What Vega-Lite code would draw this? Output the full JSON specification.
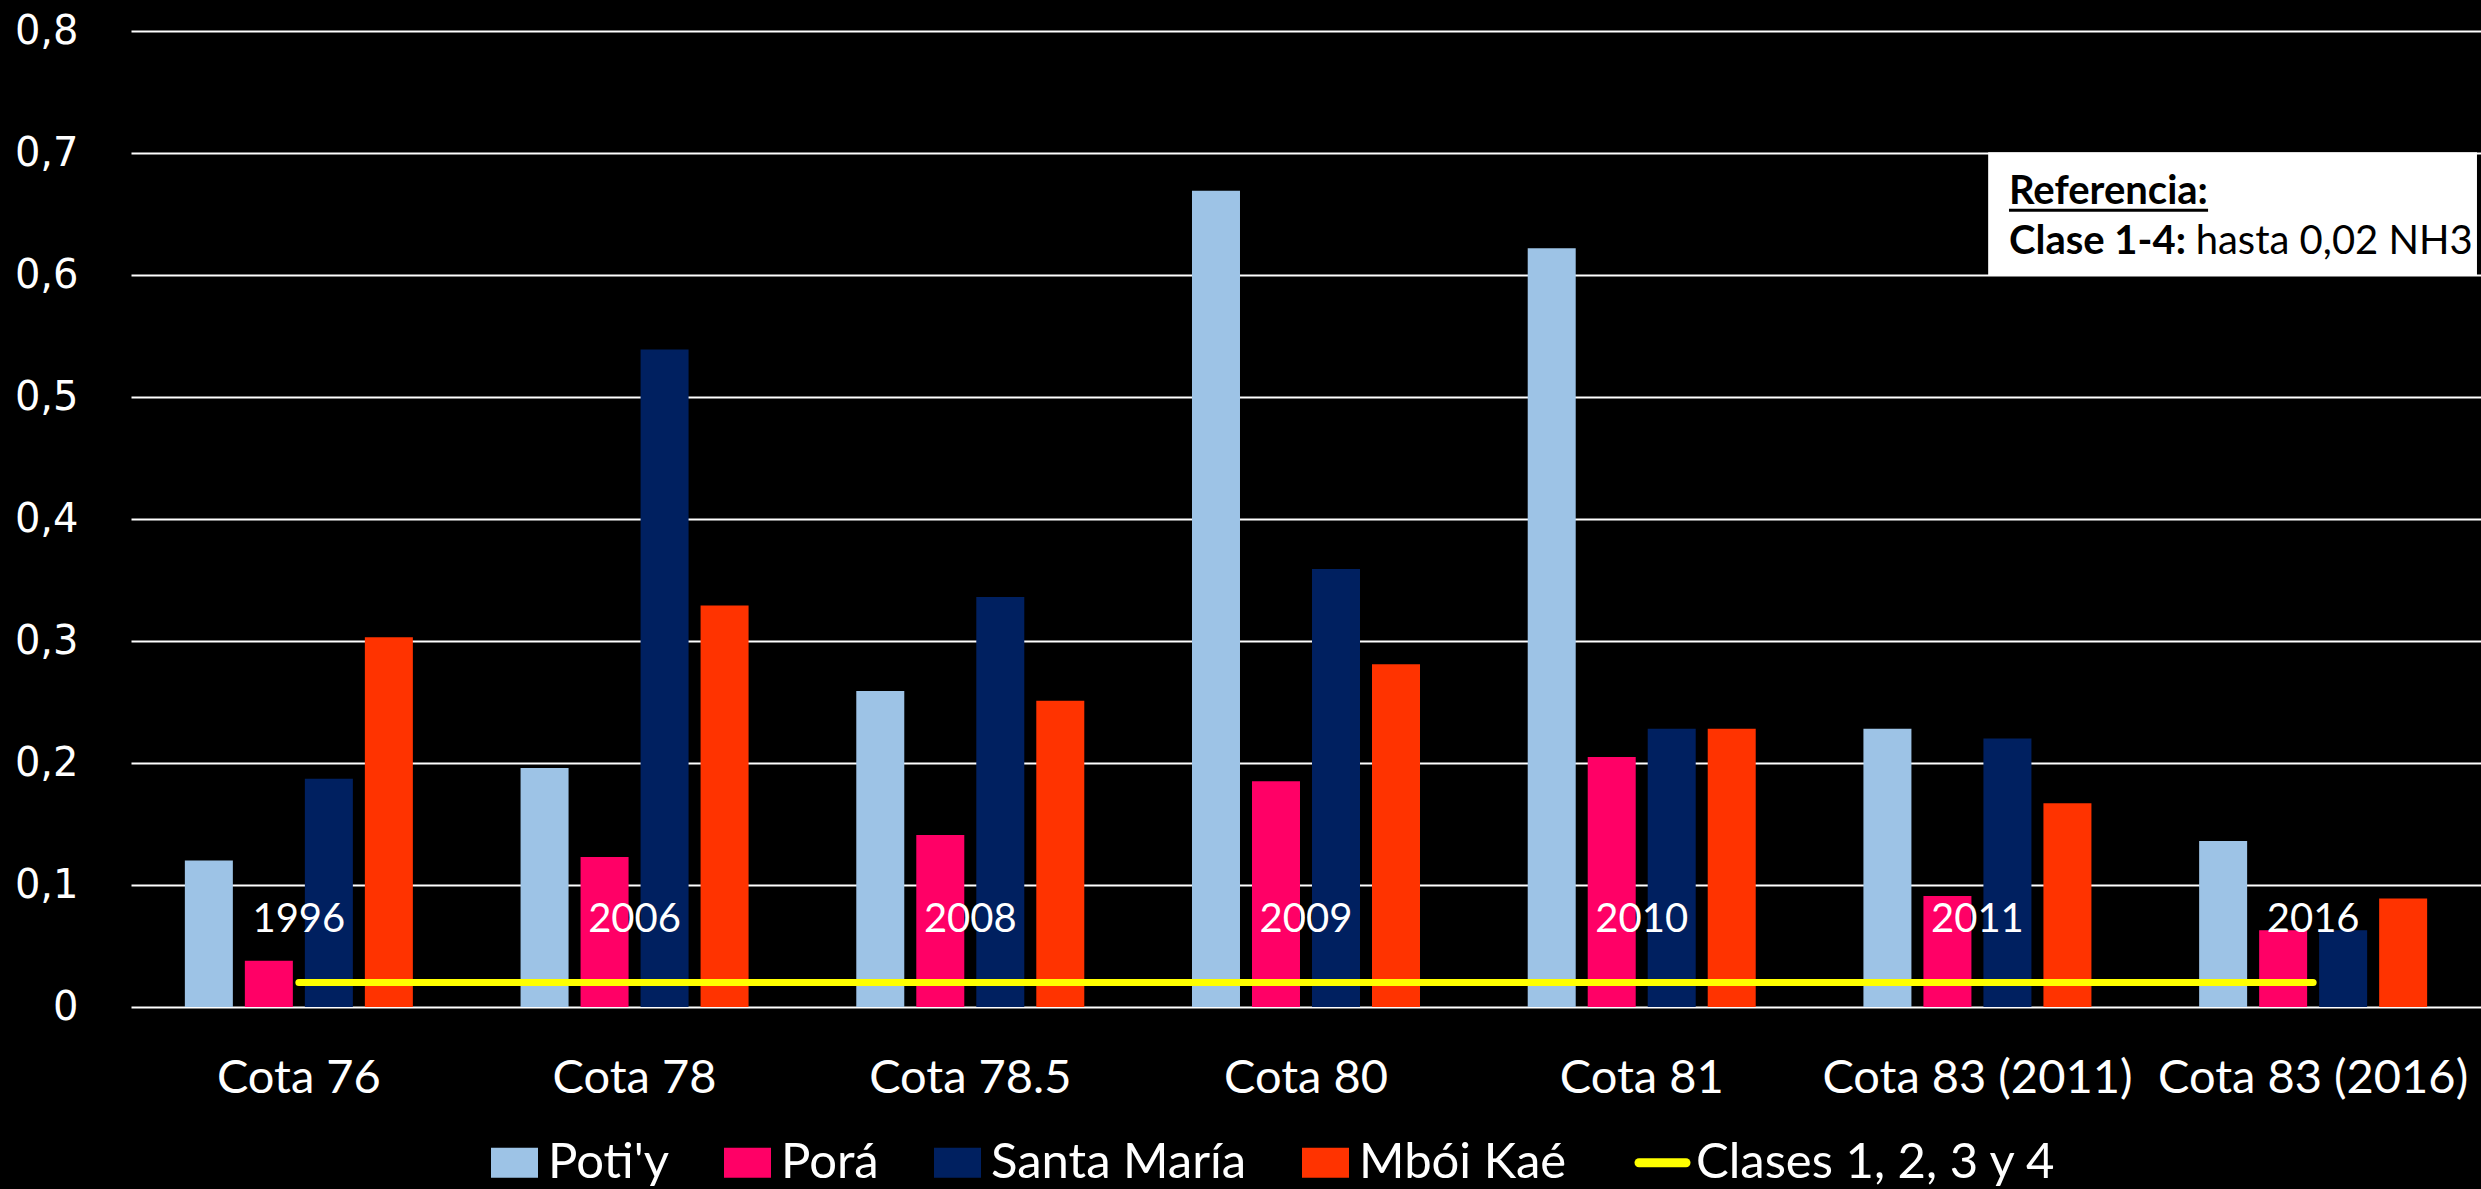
{
  "$schema": "https://vega.github.io/schema/vega-lite/v6.json",
  "width": 2350,
  "height": 976,
  "autosize": {"type": "none"},
  "padding": {"left": 131, "top": 31, "right": 0, "bottom": 182},
  "background": "#000000",
  "config": {"view": {"stroke": null}, "font": "Lato"},
  "datasets": {
    "barras": [
      {"cota": "Cota 76", "serie": "Poti'y", "valor": 0.120},
      {"cota": "Cota 76", "serie": "Porá", "valor": 0.038},
      {"cota": "Cota 76", "serie": "Santa María", "valor": 0.187},
      {"cota": "Cota 76", "serie": "Mbói Kaé", "valor": 0.303},
      {"cota": "Cota 78", "serie": "Poti'y", "valor": 0.196},
      {"cota": "Cota 78", "serie": "Porá", "valor": 0.123},
      {"cota": "Cota 78", "serie": "Santa María", "valor": 0.539},
      {"cota": "Cota 78", "serie": "Mbói Kaé", "valor": 0.329},
      {"cota": "Cota 78.5", "serie": "Poti'y", "valor": 0.259},
      {"cota": "Cota 78.5", "serie": "Porá", "valor": 0.141},
      {"cota": "Cota 78.5", "serie": "Santa María", "valor": 0.336},
      {"cota": "Cota 78.5", "serie": "Mbói Kaé", "valor": 0.251},
      {"cota": "Cota 80", "serie": "Poti'y", "valor": 0.669},
      {"cota": "Cota 80", "serie": "Porá", "valor": 0.185},
      {"cota": "Cota 80", "serie": "Santa María", "valor": 0.359},
      {"cota": "Cota 80", "serie": "Mbói Kaé", "valor": 0.281},
      {"cota": "Cota 81", "serie": "Poti'y", "valor": 0.622},
      {"cota": "Cota 81", "serie": "Porá", "valor": 0.205},
      {"cota": "Cota 81", "serie": "Santa María", "valor": 0.228},
      {"cota": "Cota 81", "serie": "Mbói Kaé", "valor": 0.228},
      {"cota": "Cota 83 (2011)", "serie": "Poti'y", "valor": 0.228},
      {"cota": "Cota 83 (2011)", "serie": "Porá", "valor": 0.091},
      {"cota": "Cota 83 (2011)", "serie": "Santa María", "valor": 0.220},
      {"cota": "Cota 83 (2011)", "serie": "Mbói Kaé", "valor": 0.167},
      {"cota": "Cota 83 (2016)", "serie": "Poti'y", "valor": 0.136},
      {"cota": "Cota 83 (2016)", "serie": "Porá", "valor": 0.063},
      {"cota": "Cota 83 (2016)", "serie": "Santa María", "valor": 0.063},
      {"cota": "Cota 83 (2016)", "serie": "Mbói Kaé", "valor": 0.089}
    ],
    "linea": [
      {"cota": "Cota 76", "anio": "1996", "clase": 0.02},
      {"cota": "Cota 78", "anio": "2006", "clase": 0.02},
      {"cota": "Cota 78.5", "anio": "2008", "clase": 0.02},
      {"cota": "Cota 80", "anio": "2009", "clase": 0.02},
      {"cota": "Cota 81", "anio": "2010", "clase": 0.02},
      {"cota": "Cota 83 (2011)", "anio": "2011", "clase": 0.02},
      {"cota": "Cota 83 (2016)", "anio": "2016", "clase": 0.02}
    ]
  },
  "layer": [
    {
      "layer": [
        {
          "data": {"name": "barras"},
          "mark": {"type": "bar"},
          "encoding": {
            "x": {
              "field": "cota", "type": "nominal",
              "sort": ["Cota 76", "Cota 78", "Cota 78.5", "Cota 80", "Cota 81", "Cota 83 (2011)", "Cota 83 (2016)"],
              "scale": {"paddingInner": 0, "paddingOuter": 0},
              "axis": {"title": null, "labelFont": "Lato", "labelFontSize": 47, "labelColor": "white", "labelPadding": 48, "ticks": false, "tickSize": 0, "domain": false, "labelAngle": 0, "labelLimit": 1000, "labelOverlap": false, "grid": false}
            },
            "xOffset": {
              "field": "serie", "type": "nominal",
              "sort": ["Poti'y", "Porá", "Santa María", "Mbói Kaé"],
              "scale": {"paddingInner": 0.2, "paddingOuter": 0.8975}
            },
            "y": {
              "field": "valor", "type": "quantitative",
              "scale": {"domain": [0, 0.8], "nice": false, "zero": true},
              "axis": {"title": null, "values": [0, 0.1, 0.2, 0.3, 0.4, 0.5, 0.6, 0.7, 0.8], "labelExpr": "datum.value == 0 ? '0' : replace(format(datum.value, '.1f'), '.', ',')", "labelFont": "DejaVu Sans", "labelFontSize": 40, "labelColor": "white", "labelPadding": 53, "ticks": false, "tickSize": 0, "domain": false, "grid": true, "gridColor": "white", "gridWidth": 2, "gridOpacity": 1}
            },
            "color": {
              "field": "serie", "type": "nominal",
              "scale": {"domain": ["Poti'y", "Porá", "Santa María", "Mbói Kaé", "Clases 1, 2, 3 y 4"], "range": ["#9DC3E6", "#FF0066", "#002060", "#FF3300", "#FFFF00"]},
              "legend": {
                "orient": "none", "legendX": 359, "legendY": 1107, "direction": "horizontal", "title": null,
                "labelFont": "Lato", "labelFontSize": 49, "labelColor": "white", "labelOffset": 9, "columnPadding": 54,
                "symbolSize": 2209, "symbolType": "M-1,-0.64H1V0.64H-1Z", "labelLimit": 1000,
                "encode": {
                  "symbols": {
                    "update": {
                      "shape": {"signal": "datum.value === 'Clases 1, 2, 3 y 4' ? 'stroke' : 'M-1,-0.64H1V0.64H-1Z'"},
                      "fill": {"signal": "datum.value === 'Clases 1, 2, 3 y 4' ? 'transparent' : scale('color', datum.value)"},
                      "stroke": {"signal": "scale('color', datum.value)"},
                      "strokeWidth": {"signal": "datum.value === 'Clases 1, 2, 3 y 4' ? 9 : 0"},
                      "strokeCap": {"value": "round"},
                      "opacity": {"value": 1}
                    }
                  }
                }
              }
            }
          }
        },
        {
          "data": {"name": "linea"},
          "mark": {"type": "line", "color": "#FFFF00", "strokeWidth": 7, "strokeCap": "round"},
          "encoding": {
            "x": {"field": "cota", "type": "nominal", "sort": ["Cota 76", "Cota 78", "Cota 78.5", "Cota 80", "Cota 81", "Cota 83 (2011)", "Cota 83 (2016)"], "title": null},
            "y": {"field": "clase", "type": "quantitative", "title": null}
          }
        },
        {
          "data": {"name": "linea"},
          "mark": {"type": "text", "color": "white", "font": "Lato", "fontSize": 40, "baseline": "middle", "align": "center"},
          "encoding": {
            "x": {"field": "cota", "type": "nominal", "sort": ["Cota 76", "Cota 78", "Cota 78.5", "Cota 80", "Cota 81", "Cota 83 (2011)", "Cota 83 (2016)"], "title": null},
            "y": {"datum": 0.071, "type": "quantitative"},
            "text": {"field": "anio"}
          }
        }
      ]
    },
    {
      "data": {"values": [{}]},
      "layer": [
        {
          "mark": {"type": "rect", "color": "white"},
          "encoding": {
            "x": {"datum": 5.532, "type": "quantitative", "scale": {"domain": [0, 7], "nice": false, "zero": false}, "axis": null},
            "x2": {"datum": 6.988},
            "y": {"datum": 0.600, "type": "quantitative"},
            "y2": {"datum": 0.7006}
          }
        },
        {
          "mark": {"type": "text", "align": "left", "baseline": "alphabetic", "font": "Lato", "fontSize": 40, "fontWeight": "bold", "color": "black", "text": "Referencia:"},
          "encoding": {
            "x": {"datum": 5.594, "type": "quantitative"},
            "y": {"datum": 0.658, "type": "quantitative"}
          }
        },
        {
          "mark": {"type": "rule", "color": "black", "strokeWidth": 3},
          "encoding": {
            "x": {"datum": 5.594, "type": "quantitative"},
            "x2": {"datum": 6.187},
            "y": {"datum": 0.653, "type": "quantitative"}
          }
        },
        {
          "mark": {"type": "text", "align": "left", "baseline": "alphabetic", "font": "Lato", "fontSize": 40, "fontWeight": "bold", "color": "black", "text": "Clase 1-4:"},
          "encoding": {
            "x": {"datum": 5.594, "type": "quantitative"},
            "y": {"datum": 0.617, "type": "quantitative"}
          }
        },
        {
          "mark": {"type": "text", "align": "left", "baseline": "alphabetic", "font": "Lato", "fontSize": 40, "fontWeight": "normal", "color": "black", "text": "hasta 0,02 NH3"},
          "encoding": {
            "x": {"datum": 6.15, "type": "quantitative"},
            "y": {"datum": 0.617, "type": "quantitative"}
          }
        }
      ]
    }
  ],
  "resolve": {"scale": {"x": "independent"}}
}
